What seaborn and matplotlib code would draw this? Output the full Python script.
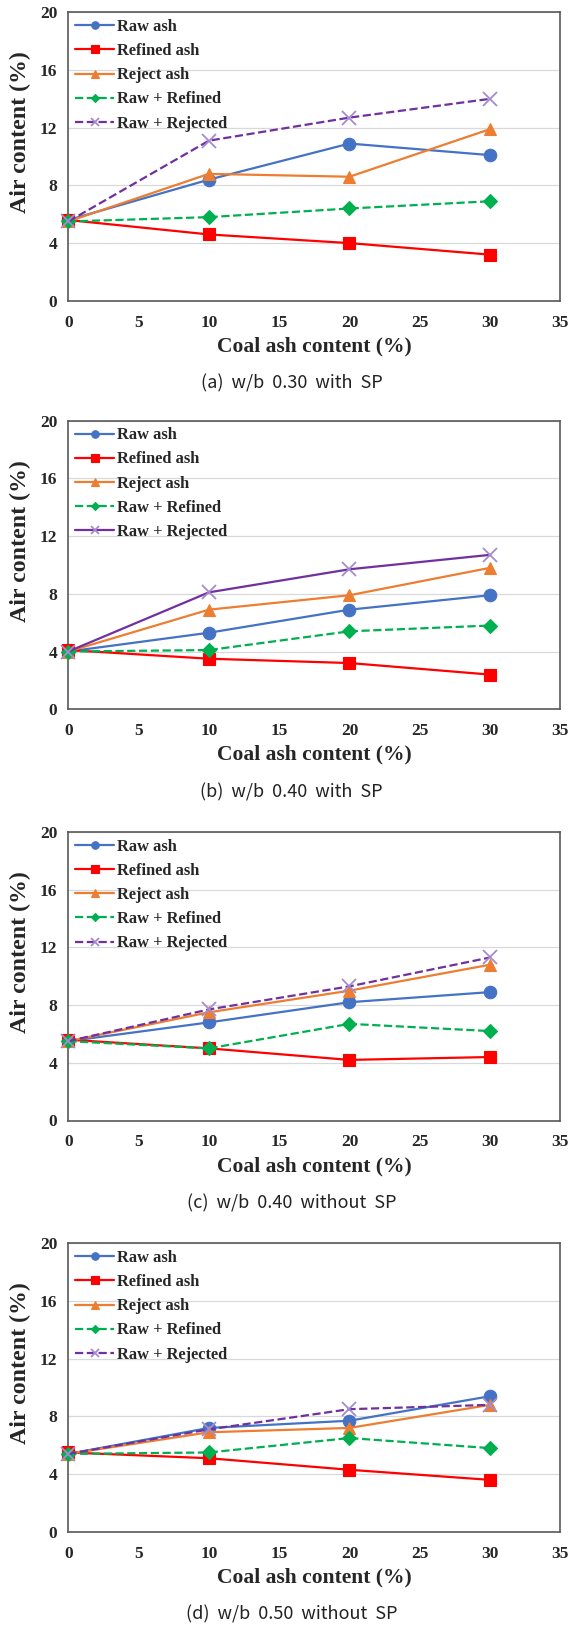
"""Air content vs coal ash content, four mix conditions."""

import matplotlib
matplotlib.use("Agg")
import matplotlib.pyplot as plt
import pandas as pd
import seaborn as sns

# ---- data -----------------------------------------------------------------
ash_content = [0, 10, 20, 30]

series_names = ["Raw ash", "Refined ash", "Reject ash", "Raw + Refined", "Raw + Rejected"]

panel_a = {  # w/b 0.30 with SP
    "Raw ash": [5.6, 8.4, 10.9, 10.1],
    "Refined ash": [5.6, 4.6, 4.0, 3.2],
    "Reject ash": [5.5, 8.8, 8.6, 11.9],
    "Raw + Refined": [5.5, 5.8, 6.4, 6.9],
    "Raw + Rejected": [5.5, 11.1, 12.7, 14.0],
}
panel_b = {  # w/b 0.40 with SP
    "Raw ash": [4.0, 5.3, 6.9, 7.9],
    "Refined ash": [4.1, 3.5, 3.2, 2.4],
    "Reject ash": [4.0, 6.9, 7.9, 9.8],
    "Raw + Refined": [4.0, 4.1, 5.4, 5.8],
    "Raw + Rejected": [4.0, 8.1, 9.7, 10.7],
}
panel_c = {  # w/b 0.40 without SP
    "Raw ash": [5.5, 6.8, 8.2, 8.9],
    "Refined ash": [5.6, 5.0, 4.2, 4.4],
    "Reject ash": [5.5, 7.5, 9.0, 10.8],
    "Raw + Refined": [5.5, 5.0, 6.7, 6.2],
    "Raw + Rejected": [5.5, 7.7, 9.3, 11.3],
}
panel_d = {  # w/b 0.50 without SP
    "Raw ash": [5.4, 7.2, 7.7, 9.4],
    "Refined ash": [5.5, 5.1, 4.3, 3.6],
    "Reject ash": [5.4, 6.9, 7.2, 8.8],
    "Raw + Refined": [5.4, 5.5, 6.5, 5.8],
    "Raw + Rejected": [5.4, 7.1, 8.5, 8.8],
}

panels = [panel_a, panel_b, panel_c, panel_d]
captions = ["(a)  w/b  0.30  with  SP", "(b)  w/b  0.40  with  SP",
            "(c)  w/b  0.40  without  SP", "(d)  w/b  0.50  without  SP"]
# Raw + Rejected is solid only in panel (b)
rejected_dashed = [True, False, True, True]

# ---- styling ----------------------------------------------------------------
sns.set_theme(style="white")
plt.rcParams.update({
    "font.family": ["Liberation Serif", "DejaVu Serif"],
    "font.weight": "bold",
})

STYLE = {
    "Raw ash": dict(color="#4472C4", marker="o", ms=9, ls="-", mec="#4472C4"),
    "Refined ash": dict(color="#FF0000", marker="s", ms=9, ls="-", mec="#FF0000"),
    "Reject ash": dict(color="#ED7D31", marker="^", ms=9, ls="-", mec="#ED7D31"),
    "Raw + Refined": dict(color="#00B050", marker="D", ms=7, ls="--", mec="#00B050"),
    "Raw + Rejected": dict(color="#7030A0", marker="x", ms=10, ls="--", mec="#A58BCF"),
}

W, H = 583, 1629
fig = plt.figure(figsize=(W / 100, H / 100), dpi=100)

ax_left, ax_w, ax_h = 68.3, 492.0, 288.5
ax_tops = [12.3, 420.7, 832.0, 1243.3]

for k, (data, cap) in enumerate(zip(panels, captions)):
    top = ax_tops[k]
    ax = fig.add_axes([ax_left / W, 1 - (top + ax_h) / H, ax_w / W, ax_h / H])

    for name in series_names:
        st = STYLE[name]
        ls = st["ls"]
        if name == "Raw + Rejected" and not rejected_dashed[k]:
            ls = "-"
        df = pd.DataFrame({"x": ash_content, "y": data[name]})
        sns.lineplot(data=df, x="x", y="y", ax=ax, color=st["color"], linestyle=ls,
                     linewidth=1.6, marker=st["marker"], markersize=st["ms"],
                     markeredgecolor=st["mec"], markeredgewidth=1.3 if st["marker"] == "x" else 0.8,
                     label=name, clip_on=False, zorder=3)

    ax.set_xlim(0, 35)
    ax.set_ylim(0, 20)
    ax.set_xticks(range(0, 36, 5))
    ax.set_yticks(range(0, 21, 4))
    ax.tick_params(length=0, labelsize=12.5)
    ax.tick_params(axis="y", pad=8)
    ax.tick_params(axis="x", pad=10)
    for lab in ax.get_xticklabels() + ax.get_yticklabels():
        lab.set_fontweight("bold")
    ax.grid(axis="y", color="#D9D9D9", linewidth=0.9, zorder=0)
    ax.grid(axis="x", visible=False)
    for spine in ax.spines.values():
        spine.set_visible(True)
        spine.set_color("#595959")
        spine.set_linewidth(1.2)

    ax.set_xlabel("Coal ash content (%)", fontsize=15.5, fontweight="bold", va="center")
    ax.set_ylabel("Air content (%)", fontsize=17.2, fontweight="bold", va="center")
    ax.xaxis.set_label_coords(0.5, -0.158)
    ax.yaxis.set_label_coords(-0.097, 0.584)

    leg = ax.legend(loc="upper left", bbox_to_anchor=(0.0, 1.0), frameon=False,
                    fontsize=11.8, handlelength=2.4, handletextpad=0.15,
                    labelspacing=0.5, borderaxespad=0.0, markerscale=0.6)
    for t in leg.get_texts():
        t.set_fontweight("bold")

    cap_y = top + ax_h + 83
    fig.text(0.5, 1 - cap_y / H, cap, ha="center", va="center", fontsize=13,
             fontweight="normal", color="#222222", family=["Noto Sans CJK KR", "DejaVu Sans"])

fig.savefig("out.png", dpi=100)
